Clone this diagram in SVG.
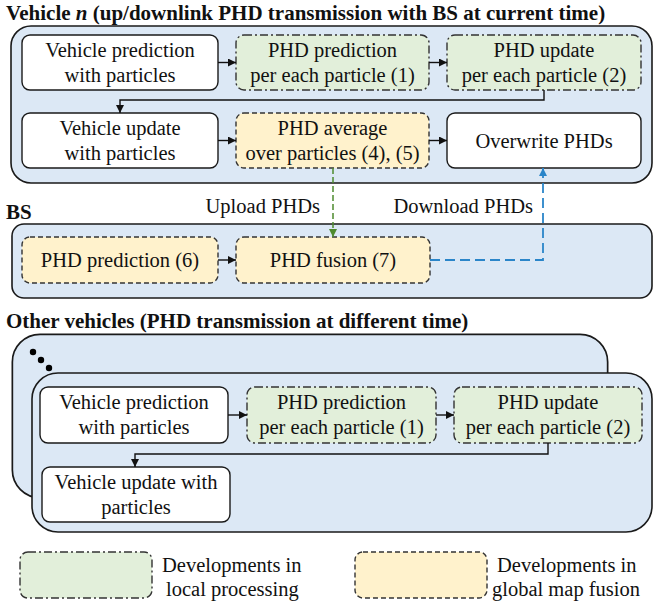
<svg xmlns="http://www.w3.org/2000/svg" width="672" height="606" viewBox="0 0 672 606" font-family="Liberation Serif, Times New Roman, DejaVu Serif, serif">
<style>
text{font-family:'Liberation Serif','Times New Roman','DejaVu Serif',serif;font-size:20.5px;fill:#111}
.t{font-weight:bold;font-size:21px}
.c{text-anchor:middle}
.box{fill:#dce8f5;stroke:#1a1a1a;stroke-width:1.6}
.w{fill:#ffffff;stroke:#1a1a1a;stroke-width:1.4}
.g{fill:#e2efda;stroke:#333;stroke-width:1.4;stroke-dasharray:8 3 2 3}
.y{fill:#fff2cc;stroke:#333;stroke-width:1.4;stroke-dasharray:5 3}
.e{fill:none;stroke:#111;stroke-width:1.4}
</style>
<defs>
<marker id="ah" viewBox="0 0 8 8" refX="8" refY="4" markerWidth="8" markerHeight="8" markerUnits="userSpaceOnUse" orient="auto"><path d="M0,0 L8,4 L0,8 Z" fill="#111"/></marker>
<marker id="ahg" viewBox="0 0 8 8" refX="8" refY="4" markerWidth="8" markerHeight="8" markerUnits="userSpaceOnUse" orient="auto"><path d="M0,0 L8,4 L0,8 Z" fill="#4e8a2e"/></marker>
<marker id="ahb" viewBox="0 0 8 8" refX="8" refY="4" markerWidth="8" markerHeight="8" markerUnits="userSpaceOnUse" orient="auto"><path d="M0,0 L8,4 L0,8 Z" fill="#2a85c9"/></marker>
</defs>

<g id="vehicle-n">
<text class="t" x="6" y="20">Vehicle <tspan font-style="italic">n</tspan> (up/downlink PHD transmission with BS at current time)</text>
<rect class="box" x="11" y="26" width="641" height="157" rx="20"/>
</g>
<g id="veh-pred"><rect class="w" x="22" y="35" width="196" height="55" rx="8"/><text class="c" x="120" y="57">Vehicle prediction</text><text class="c" x="120" y="82">with particles</text></g>
<g id="phd-pred"><rect class="g" x="236" y="35" width="193" height="55" rx="8"/><text class="c" x="332.5" y="57">PHD prediction</text><text class="c" x="332.5" y="82">per each particle (1)</text></g>
<g id="phd-upd"><rect class="g" x="447" y="35" width="194" height="55" rx="8"/><text class="c" x="544" y="57">PHD update</text><text class="c" x="544" y="82">per each particle (2)</text></g>
<g id="veh-upd"><rect class="w" x="22" y="113" width="196" height="55" rx="8"/><text class="c" x="120" y="135">Vehicle update</text><text class="c" x="120" y="160">with particles</text></g>
<g id="phd-avg"><rect class="y" x="236" y="113" width="193" height="55" rx="8"/><text class="c" x="332.5" y="135">PHD average</text><text class="c" x="332.5" y="160">over particles (4), (5)</text></g>
<g id="overwrite"><rect class="w" x="447" y="113" width="194" height="55" rx="8"/><text class="c" x="544" y="148">Overwrite PHDs</text></g>

<g id="bs">
<text class="t" x="6" y="219">BS</text>
<rect class="box" x="12" y="224" width="640" height="74" rx="12"/>
</g>
<g id="bs-pred"><rect class="y" x="22" y="237" width="196" height="46" rx="8"/><text class="c" x="120" y="267">PHD prediction (6)</text></g>
<g id="bs-fusion"><rect class="y" x="236" y="237" width="194" height="46" rx="8"/><text class="c" x="333" y="267">PHD fusion (7)</text></g>

<g id="other-vehicles">
<text class="t" x="6" y="328">Other vehicles (PHD transmission at different time)</text>
<rect x="14" y="336" width="592" height="160" rx="26" fill="#dce8f5" stroke="#1a1a1a" stroke-width="5"/>
<rect x="14" y="336" width="592" height="160" rx="26" fill="#dce8f5" stroke="#dce8f5" stroke-width="1.6"/>
<circle cx="33" cy="352" r="3.2" fill="#000"/>
<circle cx="41" cy="360" r="3.2" fill="#000"/>
<circle cx="49" cy="368" r="3.2" fill="#000"/>
<rect class="box" x="32" y="373" width="620" height="159" rx="26"/>
</g>
<g id="o-veh-pred"><rect class="w" x="40" y="387" width="188" height="56" rx="8"/><text class="c" x="134" y="409">Vehicle prediction</text><text class="c" x="134" y="434">with particles</text></g>
<g id="o-phd-pred"><rect class="g" x="247" y="387" width="189" height="56" rx="8"/><text class="c" x="341.5" y="409">PHD prediction</text><text class="c" x="341.5" y="434">per each particle (1)</text></g>
<g id="o-phd-upd"><rect class="g" x="454" y="387" width="188" height="56" rx="8"/><text class="c" x="548" y="409">PHD update</text><text class="c" x="548" y="434">per each particle (2)</text></g>
<g id="o-veh-upd"><rect class="w" x="42" y="467" width="188" height="55" rx="8"/><text class="c" x="136" y="489">Vehicle update with</text><text class="c" x="136" y="514">particles</text></g>

<g id="connectors">
<line class="e" x1="218" y1="62.5" x2="236" y2="62.5" marker-end="url(#ah)"/>
<line class="e" x1="429" y1="62.5" x2="447" y2="62.5" marker-end="url(#ah)"/>
<polyline class="e" points="544,90 544,100 120,100 120,113" marker-end="url(#ah)"/>
<line class="e" x1="218" y1="140.5" x2="236" y2="140.5" marker-end="url(#ah)"/>
<line class="e" x1="429" y1="140.5" x2="447" y2="140.5" marker-end="url(#ah)"/>
<line class="e" x1="218" y1="260" x2="236" y2="260" marker-end="url(#ah)"/>
<line x1="333" y1="168" x2="333" y2="237" fill="none" stroke="#4e8a2e" stroke-width="1.5" stroke-dasharray="6 3" marker-end="url(#ahg)"/>
<polyline points="430,260 543,260 543,168" fill="none" stroke="#2a85c9" stroke-width="1.8" stroke-dasharray="10 5" marker-end="url(#ahb)"/>
<text x="320" y="213" text-anchor="end">Upload PHDs</text>
<text x="533" y="213" text-anchor="end">Download PHDs</text>
<line class="e" x1="228" y1="415" x2="247" y2="415" marker-end="url(#ah)"/>
<line class="e" x1="436" y1="415" x2="454" y2="415" marker-end="url(#ah)"/>
<polyline class="e" points="548,443 548,454 135,454 135,467" marker-end="url(#ah)"/>
</g>

<g id="legend">
<rect class="g" x="20" y="552" width="132" height="46" rx="8"/>
<text x="162" y="572">Developments in</text>
<text x="166" y="596">local processing</text>
<rect class="y" x="355" y="552" width="132" height="46" rx="8"/>
<text x="497" y="572">Developments in</text>
<text x="492" y="596">global map fusion</text>
</g>
</svg>
